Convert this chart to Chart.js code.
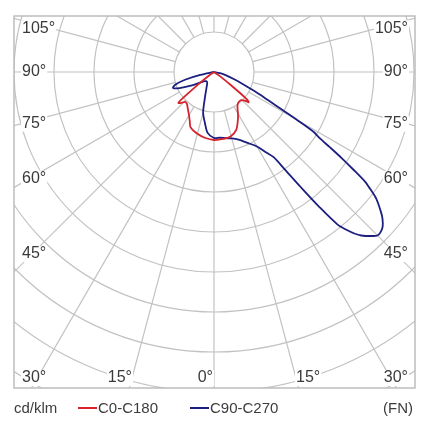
<!DOCTYPE html>
<html lang="en">
<head>
  <meta charset="UTF-8" />
  <title>Polar light distribution</title>
  <script src="https://cdn.jsdelivr.net/npm/chart.js"></script>
  <style>
    body {
      margin: 0;
      background: #fff;
    }
    .wrap {
      position: relative;
      width: 431px;
      height: 430px;
    }
    .legend {
      position: absolute;
      left: 0;
      top: 396px;
      width: 431px;
      height: 24px;
      font-family: "Liberation Sans", Arial, sans-serif;
      font-size: 15px;
      color: #3c3c3c;
    }
    .legend span {
      position: absolute;
      top: 0;
      line-height: 24px;
      white-space: nowrap;
    }
    .legend i {
      display: inline-block;
      width: 19px;
      height: 2px;
      vertical-align: middle;
      margin-right: 1px;
      margin-top: -2px;
    }
  </style>
</head>
<body>
  <div class="wrap">
    <canvas id="polar"></canvas>
    <div class="legend">
      <span style="left:14px">cd/klm</span>
      <span style="left:78px"><i style="background:#d6232c"></i>C0-C180</span>
      <span style="left:190px"><i style="background:#1c1f7e"></i>C90-C270</span>
      <span style="right:18px">(FN)</span>
    </div>
  </div>

  <script>
    // angles measured from nadir (0° = straight down), negative = left half
    const redAngles = [-90, -60, -55, -52, -50, -49, -46, -44, -40, -37, -30, -26, -23, -15, -8, 0,
                       8, 14, 21, 28, 34, 38, 44, 47, 49, 50.5, 52, 55, 60, 90];
    const redValues = [0, 0, 15, 50, 100, 118, 110, 104, 105, 110, 125, 138, 150, 160, 166, 170,
                       169, 167, 155, 128, 105, 98, 98, 105, 115, 100, 55, 20, 0, 0];

    const blueAngles = [-90, -78, -75, -72, -69, -65, -58, -48, -40, -32, -25, -20, -15, -10, -6, 0,
                        5, 10, 15, 20, 25, 30, 33, 35, 36, 37, 38, 39, 40, 41, 42, 44, 45, 46, 47.5,
                        49, 50, 52, 53.5, 54, 55, 56, 57, 58, 59, 60, 61, 62, 64, 66, 70, 75, 80, 90];
    const blueValues = [0, 35, 75, 100, 110, 95, 62, 35, 30, 32, 45, 65, 105, 130, 153, 165,
                        165, 168, 172, 180, 195, 215, 240, 260, 300, 360, 430, 490, 515, 535, 550, 570, 578, 578, 572,
                        558, 545, 515, 480, 468, 425, 385, 345, 310, 290, 240, 195, 165, 125, 92, 55, 30, 15, 0];

    const ringValues = [100, 200, 300, 400, 500, 600, 700, 800, 900, 1000];
    const spokeAngles = [0, 15, 30, 45, 60, 75, 90, 105, 120, 135, 150, 165,
                         180, 195, 210, 225, 240, 255, 270, 285, 300, 315, 330, 345];
    const sideLabels = [105, 90, 75, 60, 45];
    const bottomLabels = [30, 15, 0];

    function toXY(angles, values) {
      return angles.map((a, i) => {
        const t = a * Math.PI / 180;
        return { x: values[i] * Math.sin(t), y: -values[i] * Math.cos(t) };
      });
    }

    const labelFont = '16px "Liberation Sans", Arial, sans-serif';

    const polarGrid = {
      id: 'polarGrid',
      beforeDatasetsDraw(chart) {
        const { ctx, chartArea: a, scales: { x, y } } = chart;
        const cx = x.getPixelForValue(0);
        const cy = y.getPixelForValue(0);
        const unit = x.getPixelForValue(1) - cx;
        ctx.save();
        ctx.beginPath();
        ctx.rect(a.left, a.top, a.right - a.left, a.bottom - a.top);
        ctx.clip();
        ctx.strokeStyle = '#c2c2c2';
        ctx.lineWidth = 1.2;
        ringValues.forEach(r => {
          ctx.beginPath();
          ctx.arc(cx, cy, r * unit, 0, Math.PI * 2);
          ctx.stroke();
        });
        const r0 = ringValues[0] * unit;
        const r1 = 1200 * unit;
        spokeAngles.forEach(deg => {
          const t = deg * Math.PI / 180;
          const dx = Math.sin(t), dy = Math.cos(t);
          ctx.beginPath();
          ctx.moveTo(cx + dx * r0, cy + dy * r0);
          ctx.lineTo(cx + dx * r1, cy + dy * r1);
          ctx.stroke();
        });
        ctx.restore();
      },
      afterDatasetsDraw(chart) {
        const { ctx, chartArea: a, scales: { x, y } } = chart;
        const cx = x.getPixelForValue(0);
        const cy = y.getPixelForValue(0);
        ctx.save();
        ctx.strokeStyle = '#bdbdbd';
        ctx.lineWidth = 1.5;
        ctx.strokeRect(a.left, a.top, a.right - a.left, a.bottom - a.top);

        ctx.font = labelFont;
        ctx.textBaseline = 'middle';
        const put = (txt, tx, ty, align) => {
          const w = ctx.measureText(txt).width;
          let x0 = align === 'left' ? tx : tx - w;
          x0 = Math.max(a.left + 8, Math.min(x0, a.right - 7 - w));
          ctx.fillStyle = '#fff';
          ctx.fillRect(x0 - 1, ty - 8, w + 2, 16);
          ctx.fillStyle = '#3a3a3a';
          ctx.textAlign = 'left';
          ctx.fillText(txt, x0, ty);
        };

        sideLabels.forEach(deg => {
          const t = deg * Math.PI / 180;
          const off = deg === 90 ? 0 : 4;
          const lx = a.left + 22;
          const ty = cy + Math.cos(t) * (cx - lx) / Math.sin(t) + off;
          put(deg + '°', a.left + 8, ty, 'left');
          put(deg + '°', a.right - 7, ty, 'right');
        });

        const by = a.bottom - 10;
        bottomLabels.forEach(deg => {
          const t = deg * Math.PI / 180;
          const d = Math.tan(t) * (by - cy);
          if (deg === 0) {
            put('0°', cx - 1, by, 'right');
          } else {
            put(deg + '°', cx - d, by, 'right');
            put(deg + '°', cx + d, by, 'left');
          }
        });
        ctx.restore();
      }
    };

    const chart = new Chart(document.getElementById('polar'), {
      type: 'scatter',
      data: {
        datasets: [
          {
            label: 'C0-C180',
            data: toXY(redAngles, redValues),
            showLine: true,
            borderColor: '#d6232c',
            borderWidth: 1.8,
            pointRadius: 0,
            tension: 0.3
          },
          {
            label: 'C90-C270',
            data: toXY(blueAngles, blueValues),
            showLine: true,
            borderColor: '#1c1f7e',
            borderWidth: 1.8,
            pointRadius: 0,
            tension: 0.3
          }
        ]
      },
      options: {
        responsive: true,
        maintainAspectRatio: false,
        animation: false,
        layout: { padding: { left: 14, top: 16, right: 16, bottom: 42 } },
        scales: {
          x: { type: 'linear', min: -500, max: 502.5, display: false },
          y: { type: 'linear', min: -790, max: 140, display: false }
        },
        plugins: {
          legend: { display: false },
          tooltip: { enabled: false }
        }
      },
      plugins: [polarGrid]
    });
  </script>
</body>
</html>
